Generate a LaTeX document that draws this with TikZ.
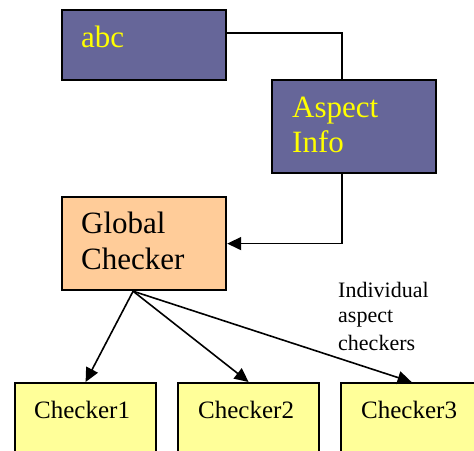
\documentclass[tikz,border=0pt]{standalone}
\usepackage{fontspec}
\setmainfont{Liberation Serif}
\usetikzlibrary{arrows.meta}
\definecolor{boxblue}{HTML}{666699}
\definecolor{boxorange}{HTML}{FFCC99}
\definecolor{boxyellow}{HTML}{FFFF99}
\definecolor{txtyellow}{HTML}{FFFF00}
\begin{document}
\begin{tikzpicture}[x=1pt,y=-1pt,
  box/.style={draw=black,line width=2.2pt,rectangle,anchor=north west,inner sep=0pt},
  conn/.style={draw=black,line width=1.6pt},
  arr/.style={conn,-{Triangle[length=14pt,width=13pt]}},
  bigtxt/.style={anchor=base west,inner sep=0pt,font=\fontsize{31}{35}\selectfont},
  chktxt/.style={anchor=base west,inner sep=0pt,font=\fontsize{25}{29}\selectfont},
  lbltxt/.style={anchor=base west,inner sep=0pt,font=\fontsize{22}{26}\selectfont}]
\clip (0,0) rectangle (474,450);
\fill[white] (0,0) rectangle (474,450);
% boxes
\node[box,fill=boxblue,minimum width=164pt,minimum height=70pt] (abc) at (61,9) {};
\node[box,fill=boxblue,minimum width=164pt,minimum height=93pt] (ai) at (271,79) {};
\node[box,fill=boxorange,minimum width=164pt,minimum height=93pt] (gc) at (61,196) {};
\node[box,fill=boxyellow,minimum width=141pt,minimum height=90pt] (c1) at (14,382) {};
\node[box,fill=boxyellow,minimum width=141pt,minimum height=90pt] (c2) at (177,382) {};
\node[box,fill=boxyellow,minimum width=141pt,minimum height=90pt] (c3) at (340,382) {};
% texts
\node[bigtxt,text=txtyellow] (tabc) at (81,47) {abc};
\node[bigtxt,text=txtyellow] (tai1) at (292,117) {Aspect};
\node[bigtxt,text=txtyellow] (tai2) at (292,152) {Info};
\node[bigtxt] (tgc1) at (81,233) {Global};
\node[bigtxt] (tgc2) at (81,269) {Checker};
\node[chktxt] (tc1) at (34,418) {Checker1};
\node[chktxt] (tc2) at (198,418) {Checker2};
\node[chktxt] (tc3) at (361,418) {Checker3};
\node[lbltxt] (l1) at (338,297) {Individual};
\node[lbltxt] (l2) at (338,322) {aspect};
\node[lbltxt] (l3) at (338,350) {checkers};
% connectors
\coordinate (abcout) at ([yshift=12pt]abc.east);
\coordinate (aiin) at ([xshift=-12pt]ai.north);
\coordinate (aiout) at ([xshift=-12pt]ai.south);
\coordinate (gcout) at ([xshift=-11pt]gc.south);
\draw[conn] (abcout) -| (aiin);
\draw[arr] (aiout) |- (gc.east);
\draw[arr] (gcout) -- (c1.north);
\draw[arr] (gcout) -- (c2.north);
\draw[arr] (gcout) -- (c3.north);
\end{tikzpicture}
\end{document}
